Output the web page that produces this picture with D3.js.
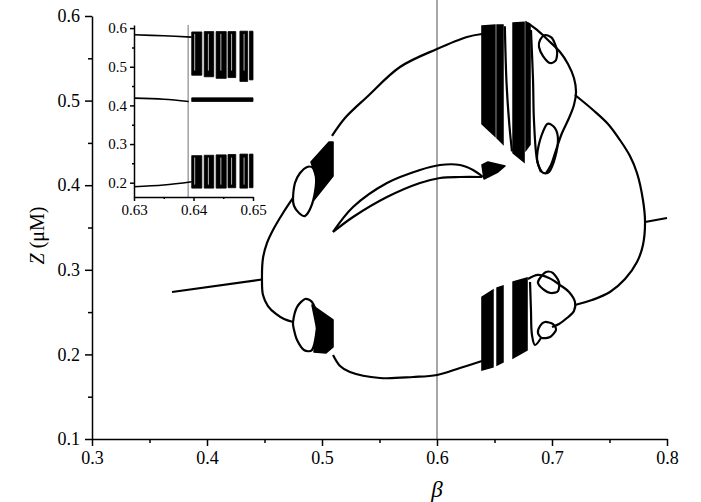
<!DOCTYPE html>
<html>
<head>
<meta charset="utf-8">
<script src="https://cdn.jsdelivr.net/npm/d3@7"></script>
<style>
  body { margin: 0; background: #fff; }
  svg { display: block; }
  text { font-family: "Liberation Serif", "Times New Roman", serif; fill: #000; }
  .axis path, .axis line { stroke: #000; stroke-width: 1.5; }
</style>
</head>
<body>
<svg id="chart" width="701" height="502"></svg>
<script>
// main axis ticks
const xTicks = [0.3, 0.4, 0.5, 0.6, 0.7, 0.8];
const xMinor = [0.35, 0.45, 0.55, 0.65, 0.75];
const yTicks = [0.1, 0.2, 0.3, 0.4, 0.5, 0.6];
const yMinor = [0.15, 0.25, 0.35, 0.45, 0.55];
const markerBeta = 0.6;

// steady states
const stableLeft = [[0.3696, 0.2738], [0.4478, 0.2885]];
const stableRight = [[0.7809, 0.3565], [0.80, 0.3612]];

// limit cycle max/min near the two Hopf points
const leftLoop = [[0.4748, 0.3849], [0.4661, 0.3671], [0.4574, 0.3470], [0.4522, 0.3317], [0.4487, 0.3139],
  [0.4478, 0.2885], [0.4487, 0.2702], [0.4530, 0.2572], [0.4600, 0.2478], [0.4670, 0.2418], [0.4748, 0.2383]];
const rightLoop = [[0.7200, 0.5066], [0.7357, 0.4889], [0.7487, 0.4724], [0.7591, 0.4534], [0.7678, 0.4345],
  [0.7739, 0.4144], [0.7791, 0.3825], [0.7809, 0.3565], [0.7791, 0.3293], [0.7739, 0.3092], [0.7635, 0.2891],
  [0.7504, 0.2738], [0.7348, 0.2643], [0.7200, 0.2584]];

// period doubling bubbles near beta = 0.48
const bubbleUpper = [[0.4748, 0.3849], [0.4765, 0.4026], [0.4809, 0.4144], [0.4870, 0.4215], [0.4922, 0.4203],
  [0.4948, 0.4085], [0.4939, 0.3920], [0.4904, 0.3742], [0.4852, 0.3636], [0.4800, 0.3671], [0.4757, 0.3754]];
const bubbleLower = [[0.4748, 0.2383], [0.4783, 0.2560], [0.4852, 0.2655], [0.4913, 0.2619], [0.4957, 0.2466],
  [0.4948, 0.2229], [0.4913, 0.2052], [0.4843, 0.2052], [0.4783, 0.2170], [0.4757, 0.2288]];
const chaosUL = [[0.4904, 0.4274], [0.5061, 0.4511], [0.5096, 0.4511], [0.5096, 0.4109], [0.4930, 0.3825], [0.4957, 0.4061]];
const chaosLL = [[0.4913, 0.2584], [0.5096, 0.2407], [0.5096, 0.2087], [0.5035, 0.2017], [0.4930, 0.2028], [0.4957, 0.2288]];

// big arcs between the chaotic windows
const upperArc = [[0.5087, 0.4582], [0.5200, 0.4794], [0.5391, 0.5043], [0.5678, 0.5397], [0.6000, 0.5610],
  [0.6261, 0.5752], [0.6391, 0.5787]];
const lowerArc = [[0.5096, 0.1993], [0.5157, 0.1863], [0.5243, 0.1792], [0.5504, 0.1721], [0.5791, 0.1733],
  [0.6000, 0.1757], [0.6200, 0.1839], [0.6391, 0.1922]];
const crescentUpper = [[0.5096, 0.3447], [0.5270, 0.3742], [0.5565, 0.4026], [0.5852, 0.4180], [0.6026, 0.4239],
  [0.6200, 0.4239], [0.6313, 0.4180], [0.6400, 0.4097]];
const crescentLower = [[0.5096, 0.3447], [0.5270, 0.3624], [0.5565, 0.3860], [0.5852, 0.4026], [0.6026, 0.4085],
  [0.6200, 0.4097], [0.6391, 0.4097]];
const crescentBlob = [[0.6391, 0.4239], [0.6443, 0.4274], [0.6591, 0.4227], [0.6530, 0.4156], [0.6409, 0.4073]];

// chaotic windows near beta = 0.64-0.68: [b0, b1, top0, top1, bottom0, bottom1]
const chaosUpperStripes = [
  [0.6391, 0.6504, 0.5882, 0.5894, 0.4723, 0.4582],
  [0.6522, 0.6574, 0.5894, 0.5894, 0.4558, 0.4487],
  [0.6661, 0.6757, 0.5917, 0.5925, 0.4381, 0.4274],
  [0.6774, 0.6809, 0.5929, 0.5900, 0.4416, 0.4480]];
const chaosLowerStripes = [
  [0.6391, 0.6487, 0.2678, 0.2761, 0.1816, 0.1851],
  [0.6522, 0.6574, 0.2785, 0.2809, 0.1875, 0.1910],
  [0.6661, 0.6783, 0.2856, 0.2903, 0.1957, 0.2052]];
const orbitUpper = [[0.6590, 0.5880], [0.6605, 0.5200], [0.6630, 0.4700], [0.6652, 0.4400]];

// shapes right of the chaotic windows
const urBlob = [[0.6896, 0.5716], [0.6939, 0.5775], [0.7000, 0.5740], [0.7043, 0.5598], [0.7035, 0.5480],
  [0.6983, 0.5444], [0.6922, 0.5527], [0.6887, 0.5634]];
const urOutline = [[0.6791, 0.5917], [0.6870, 0.5835], [0.6965, 0.5716], [0.7070, 0.5574], [0.7139, 0.5433],
  [0.7191, 0.5267], [0.7209, 0.5102], [0.7191, 0.4948], [0.7148, 0.4794], [0.7087, 0.4617], [0.7035, 0.4416],
  [0.6991, 0.4239], [0.6948, 0.4144]];
const urLowerBlob = [[0.6957, 0.4723], [0.7026, 0.4676], [0.7052, 0.4534], [0.7026, 0.4322], [0.6974, 0.4156],
  [0.6913, 0.4156], [0.6870, 0.4298], [0.6896, 0.4534]];
const urInner = [[0.6817, 0.5835], [0.6835, 0.5243], [0.6843, 0.4771], [0.6870, 0.4298], [0.6904, 0.4156]];
const lrBlob = [[0.6896, 0.2903], [0.6948, 0.2974], [0.7009, 0.2962], [0.7061, 0.2856], [0.7052, 0.2749],
  [0.6991, 0.2726], [0.6922, 0.2773], [0.6878, 0.2844]];
const lrOutline = [[0.6791, 0.2891], [0.6878, 0.2939], [0.6974, 0.2903], [0.7070, 0.2820], [0.7148, 0.2738],
  [0.7200, 0.2619], [0.7191, 0.2513], [0.7130, 0.2430], [0.7061, 0.2359], [0.7000, 0.2324]];
const lrSmallBlob = [[0.6939, 0.2383], [0.7009, 0.2359], [0.7035, 0.2288], [0.6983, 0.2206], [0.6913, 0.2194],
  [0.6878, 0.2253], [0.6896, 0.2336]];
const lrInner = [[0.6809, 0.2856], [0.6817, 0.2525], [0.6826, 0.2229], [0.6852, 0.2111], [0.6904, 0.2194]];

// inset (beta 0.63 - 0.65)
const insetXTicks = [0.63, 0.64, 0.65];
const insetXMinor = [0.635, 0.645];
const insetYTicks = [0.2, 0.3, 0.4, 0.5, 0.6];
const insetYMinor = [0.25, 0.35, 0.45, 0.55];
const insetMarker = 0.6391;
const insetUpper = [[0.630, 0.5826], [0.635, 0.5800], [0.6397, 0.5767]];
const insetMiddle = [[0.630, 0.4187], [0.635, 0.4160], [0.6392, 0.4100]];
const insetLower = [[0.630, 0.1896], [0.635, 0.1940], [0.6397, 0.2026]];
// [b0, b1, top, bottom]
const insetUpperStripes = [[0.6397, 0.6414, 0.590, 0.478], [0.6418, 0.6434, 0.591, 0.474], [0.6438, 0.6455, 0.591, 0.470],
  [0.6458, 0.6471, 0.591, 0.472], [0.6478, 0.6491, 0.592, 0.462], [0.6494, 0.6500, 0.592, 0.466]];
const insetMiddleStripes = [[0.6397, 0.6500, 0.4195, 0.4100]];
const insetLowerStripes = [[0.6397, 0.6414, 0.270, 0.186], [0.6418, 0.6434, 0.271, 0.186], [0.6438, 0.6455, 0.272, 0.186],
  [0.6458, 0.6471, 0.273, 0.187], [0.6478, 0.6491, 0.274, 0.186], [0.6494, 0.6500, 0.274, 0.187]];
const insetGaps = [0.6402, 0.6425, 0.6446, 0.6464, 0.6485];

const margin = {top: 16, right: 34, bottom: 63, left: 92};
const width = 701 - margin.left - margin.right;
const height = 502 - margin.top - margin.bottom;

const svg = d3.select('#chart')
  .append('g')
  .attr('transform', `translate(${margin.left}, ${margin.top})`);

const x = d3.scaleLinear().domain([0.3, 0.8]).range([0, width]);
const y = d3.scaleLinear().domain([0.1, 0.6]).range([height, 0]);

// reference line at beta = 0.6
svg.append('line')
  .attr('x1', x(markerBeta)).attr('x2', x(markerBeta))
  .attr('y1', -margin.top).attr('y2', height)
  .attr('stroke', '#8a8a8a').attr('stroke-width', 1.5);

// axes
const fmt1 = d3.format('.1f');
svg.append('g').attr('class', 'axis')
  .attr('transform', `translate(0, ${height})`)
  .call(d3.axisBottom(x).tickValues(xTicks).tickFormat(fmt1).tickSize(7).tickSizeOuter(0).tickPadding(5))
  .selectAll('text').style('font-size', '18px');
svg.append('g').attr('class', 'axis')
  .attr('transform', `translate(0, ${height})`)
  .call(d3.axisBottom(x).tickValues(xMinor).tickFormat('').tickSize(4).tickSizeOuter(0))
  .select('path').remove();
svg.append('g').attr('class', 'axis')
  .call(d3.axisLeft(y).tickValues(yTicks).tickFormat(fmt1).tickSize(7).tickSizeOuter(0).tickPadding(5))
  .selectAll('text').style('font-size', '18px');
svg.append('g').attr('class', 'axis')
  .call(d3.axisLeft(y).tickValues(yMinor).tickFormat('').tickSize(4).tickSizeOuter(0))
  .select('path').remove();

svg.append('text')
  .attr('x', x(0.6)).attr('y', height + 58)
  .attr('text-anchor', 'middle')
  .style('font-size', '23px').style('font-style', 'italic')
  .text('β');

const yTitle = svg.append('text')
  .attr('transform', `translate(${-margin.left + 44}, ${y(0.35) + 8}) rotate(-90)`)
  .attr('text-anchor', 'middle')
  .style('font-size', '20px');
yTitle.append('tspan').style('font-style', 'italic').text('Z');
yTitle.append('tspan').text(' (μM)');

// curves
const curve = d3.line().x(d => x(d[0])).y(d => y(d[1])).curve(d3.curveCatmullRom);
const closed = d3.line().x(d => x(d[0])).y(d => y(d[1])).curve(d3.curveCardinalClosed.tension(0.2));
const poly = d3.line().x(d => x(d[0])).y(d => y(d[1])).curve(d3.curveLinearClosed);

const openCurves = [stableLeft, stableRight, leftLoop, rightLoop, upperArc, lowerArc,
  crescentUpper, crescentLower, urOutline, urInner, lrOutline, lrInner, orbitUpper];
svg.selectAll('.branch')
  .data(openCurves)
  .join('path')
  .attr('class', 'branch')
  .attr('d', curve)
  .attr('fill', 'none')
  .attr('stroke', '#000')
  .attr('stroke-width', 2.2);

const loops = [bubbleUpper, bubbleLower, urBlob, urLowerBlob, lrBlob, lrSmallBlob];
svg.selectAll('.loop')
  .data(loops)
  .join('path')
  .attr('class', 'loop')
  .attr('d', closed)
  .attr('fill', 'none')
  .attr('stroke', '#000')
  .attr('stroke-width', 2.2);

svg.selectAll('.chaos')
  .data([chaosUL, chaosLL, crescentBlob])
  .join('path')
  .attr('class', 'chaos')
  .attr('d', poly)
  .attr('fill', '#000')
  .attr('stroke', '#000')
  .attr('stroke-width', 1.5)
  .attr('stroke-linejoin', 'round');

const stripePoly = s => [[s[0], s[2]], [s[1], s[3]], [s[1], s[5]], [s[0], s[4]]];
svg.selectAll('.stripe')
  .data(chaosUpperStripes.concat(chaosLowerStripes))
  .join('path')
  .attr('class', 'stripe')
  .attr('d', s => poly(stripePoly(s)))
  .attr('fill', '#000')
  .attr('stroke', '#000')
  .attr('stroke-width', 1.5);

// inset
const ix = d3.scaleLinear().domain([0.63, 0.65]).range([134, 253]);
const iy = d3.scaleLinear().domain([0.163, 0.608]).range([197, 25]);
const inset = d3.select('#chart').append('g');

inset.append('line')
  .attr('x1', ix(insetMarker)).attr('x2', ix(insetMarker))
  .attr('y1', iy(0.608)).attr('y2', iy(0.163))
  .attr('stroke', '#8a8a8a').attr('stroke-width', 1.2);

const fmt2 = d3.format('.2f');
inset.append('g').attr('class', 'axis')
  .attr('transform', `translate(0, ${iy(0.163)})`)
  .call(d3.axisBottom(ix).tickValues(insetXTicks).tickFormat(fmt2).tickSize(4).tickSizeOuter(0).tickPadding(3))
  .call(g => g.selectAll('line, path').attr('stroke-width', 1.2))
  .selectAll('text').style('font-size', '15px');
inset.append('g').attr('class', 'axis')
  .attr('transform', `translate(0, ${iy(0.163)})`)
  .call(d3.axisBottom(ix).tickValues(insetXMinor).tickFormat('').tickSize(2).tickSizeOuter(0))
  .call(g => g.selectAll('line').attr('stroke-width', 1.2))
  .select('path').remove();
inset.append('g').attr('class', 'axis')
  .attr('transform', `translate(${ix(0.63)}, 0)`)
  .call(d3.axisLeft(iy).tickValues(insetYTicks).tickFormat(fmt1).tickSize(4).tickSizeOuter(0).tickPadding(3))
  .call(g => g.selectAll('line, path').attr('stroke-width', 1.2))
  .selectAll('text').style('font-size', '15px');
inset.append('g').attr('class', 'axis')
  .attr('transform', `translate(${ix(0.63)}, 0)`)
  .call(d3.axisLeft(iy).tickValues(insetYMinor).tickFormat('').tickSize(2).tickSizeOuter(0))
  .call(g => g.selectAll('line').attr('stroke-width', 1.2))
  .select('path').remove();

const icurve = d3.line().x(d => ix(d[0])).y(d => iy(d[1])).curve(d3.curveCatmullRom);
const ipoly = d3.line().x(d => ix(d[0])).y(d => iy(d[1])).curve(d3.curveLinearClosed);

inset.selectAll('.ibranch')
  .data([insetUpper, insetMiddle, insetLower])
  .join('path')
  .attr('class', 'ibranch')
  .attr('d', icurve)
  .attr('fill', 'none')
  .attr('stroke', '#000')
  .attr('stroke-width', 1.6);

inset.selectAll('.istripe')
  .data(insetUpperStripes.concat(insetMiddleStripes, insetLowerStripes))
  .join('path')
  .attr('class', 'istripe')
  .attr('d', s => ipoly([[s[0], s[2]], [s[1], s[2]], [s[1], s[3]], [s[0], s[3]]]))
  .attr('fill', '#000')
  .attr('stroke', '#000')
  .attr('stroke-width', 0.8);

// thin white gaps inside the inset chaotic bands
inset.selectAll('.igap')
  .data(insetGaps.flatMap(b => [[b, 0.585, 0.49], [b, 0.265, 0.195]]))
  .join('line')
  .attr('class', 'igap')
  .attr('x1', d => ix(d[0])).attr('x2', d => ix(d[0]))
  .attr('y1', d => iy(d[1])).attr('y2', d => iy(d[2]))
  .attr('stroke', '#fff')
  .attr('stroke-width', 0.7);
</script>
</body>
</html>
